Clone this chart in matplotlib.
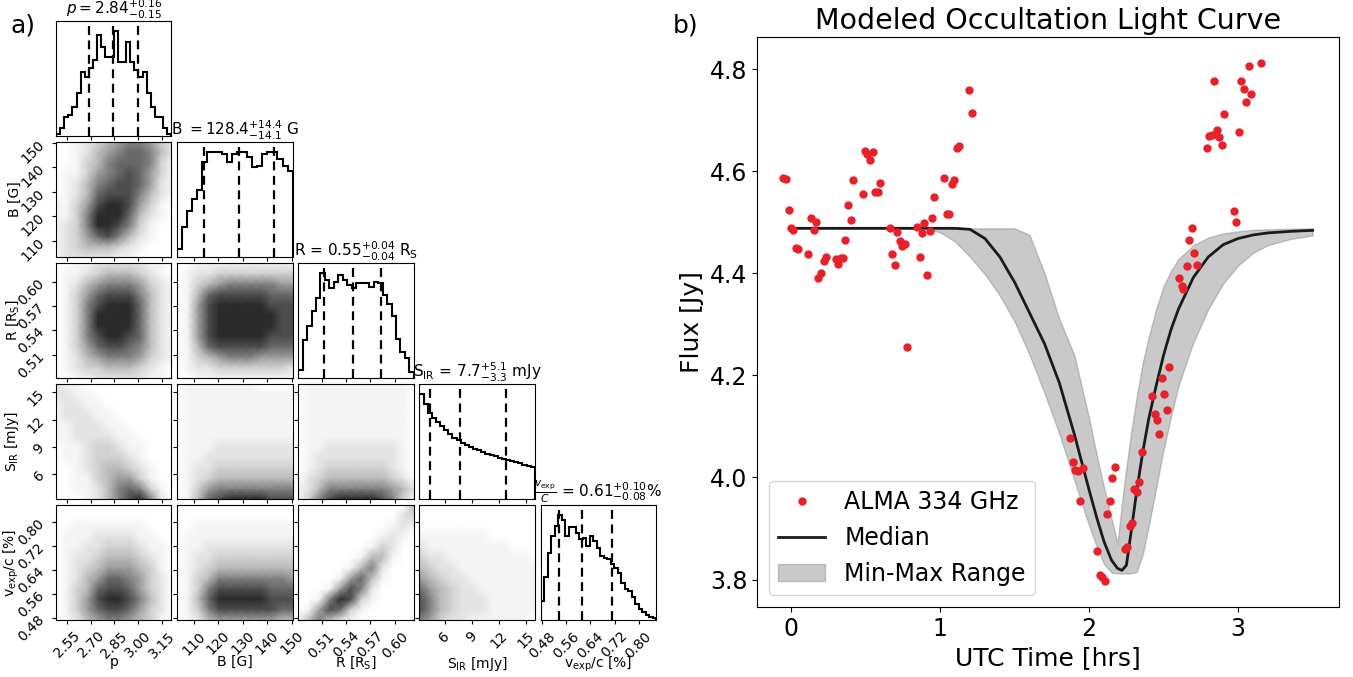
import numpy as np
import matplotlib.pyplot as plt

plt.rcParams['font.family'] = ['DejaVu Sans']

# ---------------- a) corner plot ----------------
names = ["p", "B [G]", r"R [R$_{\rm S}$]", r"S$_{\rm IR}$ [mJy]", r"v$_{\rm exp}$/c [%]"]
ranges = [(2.483, 3.208), (103.2, 150.4), (0.4815, 0.623), (3.23, 15.94), (0.474, 0.858)]
ticks = [[2.55, 2.70, 2.85, 3.00, 3.15], [110, 120, 130, 140, 150],
         [0.51, 0.54, 0.57, 0.60], [6, 9, 12, 15], [0.48, 0.56, 0.64, 0.72, 0.80]]
tick_fmt = ["{:.2f}", "{:.0f}", "{:.2f}", "{:.0f}", "{:.2f}"]
quantiles = [[2.69, 2.84, 3.00], [114.3, 128.4, 142.8], [0.513, 0.548, 0.583],
             [4.4, 7.7, 12.8], [0.535, 0.613, 0.713]]
titles = [r"$p = 2.84^{+0.16}_{-0.15}$",
          r"B $= 128.4^{+14.4}_{-14.1}$ G",
          r"R = $0.55^{+0.04}_{-0.04}$ R$_{\rm S}$",
          r"S$_{\rm IR}$ = $7.7^{+5.1}_{-3.3}$ mJy",
          r"$\frac{v_{\rm exp}}{C}$ = $0.61^{+0.10}_{-0.08}$%"]

hist_p = [8, 23, 58, 63, 88, 128, 193, 178, 203, 228, 303, 268, 238, 238,
          313, 223, 223, 283, 223, 198, 178, 193, 128, 88, 58, 58, 23, 8]
hist_B = [25, 90, 138, 175, 200, 283, 313, 313, 313, 308, 283, 308, 313, 313,
          298, 268, 273, 308, 313, 313, 293, 273, 258]
hist_R = [25, 115, 160, 205, 245, 320, 300, 275, 295, 315, 300, 285, 275,
          290, 290, 292, 277, 295, 290, 255, 225, 190, 120, 80, 60, 20]
hist_S = [315, 285, 260, 245, 232, 220, 208, 195, 185, 177, 170, 163, 158, 152,
          147, 142, 137, 132, 128, 124, 120, 117, 114, 110, 107, 103, 100, 97]
hist_v = [60, 132, 207, 260, 293, 325, 310, 260, 290, 290, 270, 250, 255, 230,
          260, 245, 225, 200, 193, 190, 175, 160, 145, 115, 95, 90, 70, 50,
          35, 25, 15, 10, 5]
hists = [hist_p, hist_B, hist_R, hist_S, hist_v]

# 2D densities (rows: top -> bottom, columns: left -> right), 0 = white, 9 = darkest
dens = {
    (1, 0): ["001234566532", "001245677642", "001346777631", "011356787531",
             "012467887521", "012478886421", "113589985310", "113699974210",
             "123699863100", "123578642100", "123444321000", "122222110000"],
    (2, 0): ["001122222110", "011234443210", "012456665321", "013578886421",
             "013689997421", "013699997421", "013699997421", "013689987421",
             "013578876421", "012456665321", "012334443210", "001122222110"],
    (2, 1): ["001111111111", "012233333333", "013456666655", "014788888777",
             "015899999888", "015899999988", "015899999988", "015899999888",
             "014788888777", "013456665555", "012233333332", "001111111111"],
    (3, 0): ["211000000000", "221100000000", "122110000000", "122211000000",
             "112221100000", "112222110000", "011233211000", "011233321000",
             "001234432100", "001134553100", "001124676310", "000124689620"],
    (3, 1): ["011111110000", "011111111111", "011111111111", "011111111111",
             "011111111111", "011111111111", "011122222222", "011222222222",
             "012233333333", "012344444444", "013566666666", "014789999888"],
    (3, 2): ["011111111110", "011111111110", "011111111110", "011111111110",
             "011111111110", "011111111110", "011222222210", "012222222210",
             "012333333210", "023444444320", "124666666542", "136899998631"],
    (4, 0): ["000000000000", "000000000000", "001111111000", "011122221100",
             "011223332110", "012234443210", "012345554310", "012457765320",
             "013478875320", "013589986420", "013578875320", "012456654310"],
    (4, 1): ["000000000000", "000000000000", "001111111111", "011111111111",
             "011222222222", "012233333333", "012344444444", "013466666665",
             "013688888777", "014799999888", "013688888877", "012455555544"],
    (4, 2): ["000000000004", "000000000023", "000000000121", "000000001210",
             "000000013200", "000000144100", "000001462000", "000015741000",
             "000158620000", "001698310000", "015873100000", "146421000000"],
    (4, 3): ["000000000000", "000000000000", "000000000000", "111111100000",
             "211111111000", "322111111110", "432211111111", "543221111111",
             "754322111111", "864322211111", "864322211111", "653221111110"],
}

# ---------------- b) light curve ----------------
t_obs = [-0.053, -0.036, -0.017, 0.0, 0.014, 0.031, 0.048, 0.115, 0.132, 0.163,
         0.149, 0.199, 0.182, 0.216, 0.230, 0.300, 0.314, 0.331, 0.348, 0.362,
         0.381, 0.398, 0.412, 0.480, 0.494, 0.511, 0.547, 0.530, 0.564, 0.580,
         0.595, 0.662, 0.679, 0.695, 0.712, 0.727, 0.743, 0.760, 0.779, 0.846,
         0.861, 0.878, 0.894, 0.909, 0.928, 0.945, 0.959, 1.026, 1.043, 1.060,
         1.079, 1.094, 1.115, 1.129, 1.194, 1.211,
         1.870, 1.889, 1.906, 1.923, 1.959, 1.938, 2.055, 2.072, 2.089, 2.103,
         2.123, 2.137, 2.154, 2.171, 2.238, 2.255, 2.272, 2.286, 2.303, 2.320,
         2.337, 2.356, 2.423, 2.440, 2.457, 2.471, 2.490, 2.505, 2.522, 2.538,
         2.606, 2.621, 2.633, 2.656, 2.673, 2.690, 2.704, 2.721, 2.789, 2.806,
         2.823, 2.837, 2.856, 2.873, 2.890, 2.904, 2.971, 2.988, 3.005, 3.021,
         3.038, 3.055, 3.072, 3.089, 3.156]
flux_obs = [4.587, 4.585, 4.524, 4.489, 4.485, 4.450, 4.447, 4.437, 4.508, 4.501,
            4.485, 4.400, 4.391, 4.424, 4.431, 4.427, 4.418, 4.429, 4.429, 4.466,
            4.533, 4.504, 4.582, 4.556, 4.639, 4.633, 4.637, 4.621, 4.560, 4.559,
            4.577, 4.489, 4.437, 4.416, 4.480, 4.464, 4.454, 4.457, 4.256, 4.491,
            4.431, 4.478, 4.499, 4.397, 4.483, 4.508, 4.550, 4.587, 4.517, 4.517,
            4.574, 4.583, 4.645, 4.649, 4.758, 4.713,
            4.078, 4.030, 4.015, 4.012, 4.018, 3.954, 3.856, 3.808, 3.805, 3.797,
            3.928, 3.954, 3.999, 4.020, 3.860, 3.863, 3.905, 3.911, 3.977, 3.972,
            3.991, 4.050, 4.160, 4.125, 4.113, 4.086, 4.195, 4.164, 4.133, 4.216,
            4.390, 4.375, 4.370, 4.414, 4.465, 4.488, 4.439, 4.417, 4.646, 4.668,
            4.670, 4.776, 4.680, 4.667, 4.652, 4.712, 4.521, 4.500, 4.677, 4.776,
            4.761, 4.735, 4.806, 4.752, 4.812]

t_model = [0.0, 0.5, 0.9, 1.0, 1.1, 1.2, 1.3, 1.4, 1.5, 1.6, 1.7, 1.8, 1.9, 2.0,
           2.05, 2.1, 2.15, 2.19, 2.22, 2.25, 2.28, 2.32, 2.36, 2.4, 2.45, 2.5,
           2.55, 2.6, 2.7, 2.8, 2.9, 3.0, 3.1, 3.2, 3.35, 3.5]
flux_med = [4.488, 4.488, 4.488, 4.488, 4.488, 4.486, 4.468, 4.432, 4.382, 4.322,
            4.262, 4.185, 4.085, 3.975, 3.922, 3.874, 3.838, 3.822, 3.818, 3.828,
            3.890, 3.975, 4.050, 4.115, 4.180, 4.240, 4.290, 4.330, 4.392, 4.432,
            4.456, 4.468, 4.475, 4.479, 4.482, 4.484]
flux_min = [4.488, 4.488, 4.488, 4.480, 4.462, 4.432, 4.398, 4.356, 4.305, 4.240,
            4.165, 4.085, 3.995, 3.905, 3.865, 3.830, 3.814, 3.812, 3.812, 3.812,
            3.812, 3.815, 3.850, 3.905, 3.980, 4.055, 4.120, 4.180, 4.265, 4.330,
            4.380, 4.415, 4.440, 4.455, 4.467, 4.474]
flux_max = [4.488, 4.488, 4.488, 4.488, 4.488, 4.488, 4.488, 4.488, 4.488, 4.475,
            4.400, 4.310, 4.240, 4.115, 4.045, 3.980, 3.920, 3.870, 3.950, 4.020,
            4.085, 4.160, 4.225, 4.275, 4.330, 4.375, 4.405, 4.428, 4.455, 4.470,
            4.478, 4.482, 4.485, 4.486, 4.487, 4.488]

fig = plt.figure(figsize=(13.53, 6.77), dpi=100)
W, H = 1353.0, 677.0

gs = fig.add_gridspec(5, 5, left=56 / W, right=656 / W, top=1 - 21 / H,
                      bottom=1 - 620 / H, wspace=0.05, hspace=0.05)
n = 5
for i in range(n):
    for j in range(i + 1):
        ax = fig.add_subplot(gs[i, j])
        if i == j:
            lo, hi = ranges[i]
            h = np.array(hists[i], dtype=float)
            edges = np.linspace(lo, hi, len(h) + 1)
            ax.stairs(h, edges, color="k", lw=1.5, baseline=0)
            for q in quantiles[i]:
                ax.axvline(q, color="k", ls=(0, (4, 2.5)), lw=1.6)
            ax.set_ylim(0, 1.1 * h.max())
            ax.set_yticks([])
            ax.set_title(titles[i], fontsize=11, pad=2)
        else:
            xlo, xhi = ranges[j]
            ylo, yhi = ranges[i]
            z = np.array([[int(c) for c in row] for row in dens[(i, j)]], dtype=float)
            z = np.flipud(z)
            xs = np.linspace(xlo, xhi, z.shape[1])
            ys = np.linspace(ylo, yhi, z.shape[0])
            ax.pcolormesh(xs, ys, z, cmap="Greys", vmin=0, vmax=10.5,
                          shading="gouraud")
            ax.set_ylim(ylo, yhi)
            ax.set_yticks(ticks[i])
            if j == 0:
                ax.set_yticklabels([tick_fmt[i].format(v) for v in ticks[i]],
                                   rotation=45, fontsize=10)
                ax.set_ylabel(names[i], fontsize=10)
                ax.yaxis.set_label_coords(-0.3, 0.5)
            else:
                ax.set_yticklabels([])
        ax.set_xlim(*ranges[j])
        ax.set_xticks(ticks[j])
        if i == n - 1:
            ax.set_xticklabels([tick_fmt[j].format(v) for v in ticks[j]],
                               rotation=45, fontsize=10)
            ax.set_xlabel(names[j], fontsize=10)
            ax.xaxis.set_label_coords(0.5, -0.3)
        else:
            ax.set_xticklabels([])
        ax.tick_params(length=3, width=0.8)

fig.text(10 / W, 1 - 25 / H, "a)", fontsize=18, va="center")
fig.text(673 / W, 1 - 25 / H, "b)", fontsize=18, va="center")

ax2 = fig.add_axes([757 / W, 70 / H, (1339 - 757) / W, (607 - 37) / H])
ax2.fill_between(t_model, flux_min, flux_max, facecolor="gray", alpha=0.42,
                 edgecolor="gray", lw=1, label="Min-Max Range")
ax2.plot(t_model, flux_med, color="#1a1a1a", lw=2, label="Median")
ax2.plot(t_obs, flux_obs, ".", color="#e8202a", ms=10, label="ALMA 334 GHz")
ax2.set_xticks([0, 1, 2, 3])
ax2.set_yticks([3.8, 4.0, 4.2, 4.4, 4.6, 4.8])
ax2.set_yticklabels(["3.8", "4.0", "4.2", "4.4", "4.6", "4.8"])
ax2.tick_params(labelsize=17)
ax2.set_xlabel("UTC Time [hrs]", fontsize=18)
ax2.set_ylabel("Flux [Jy]", fontsize=18)
ax2.set_title("Modeled Occultation Light Curve", fontsize=20.5)
handles, labels = ax2.get_legend_handles_labels()
order = [2, 1, 0]
ax2.legend([handles[k] for k in order], [labels[k] for k in order],
           loc="lower left", fontsize=17)

fig.savefig("out.png", dpi=100)
